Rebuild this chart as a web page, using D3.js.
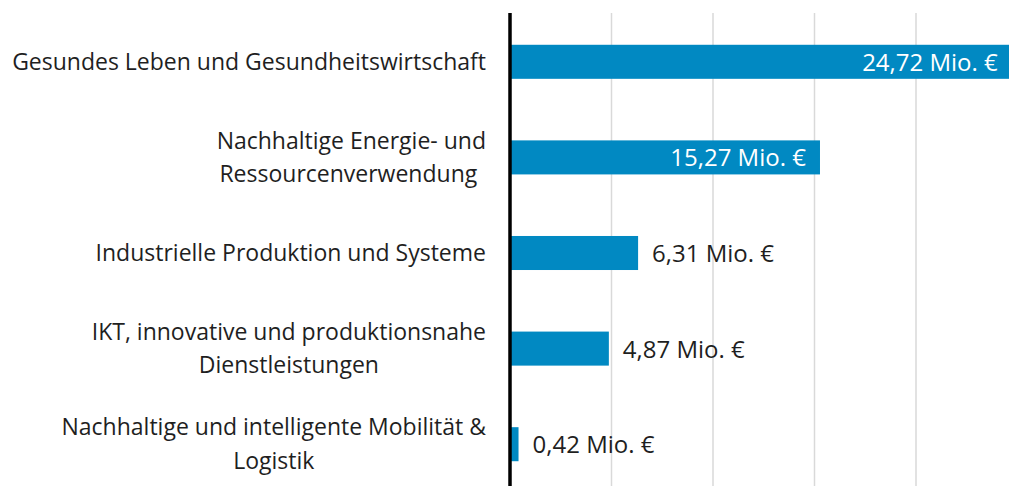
<!DOCTYPE html>
<html>
<head>
<meta charset="utf-8">
<script src="https://cdn.jsdelivr.net/npm/d3@7"></script>
<style>
	body { margin: 0; background: #ffffff; }
	svg { display: block; }
	text { font-family: "Open Sans", "Noto Sans", sans-serif; }
</style>
</head>
<body>
<svg id="svg-port" width="1009" height="486"></svg>
<script>
// Fördervolumen je Themenfeld (Mio. €)
var categories = [
	["Gesundes Leben und Gesundheitswirtschaft"],
	["Nachhaltige Energie- und", "Ressourcenverwendung "],
	["Industrielle Produktion und Systeme"],
	["IKT, innovative und produktionsnahe", "Dienstleistungen"],
	["Nachhaltige und intelligente Mobilität &", "Logistik"]
];
var values = [24.72, 15.27, 6.31, 4.87, 0.42];
var gridTicks = [5, 10, 15, 20, 25];

var deLocale = d3.formatLocale({decimal: ",", thousands: ".", grouping: [3], currency: ["", " €"]});
var fmt = deLocale.format(",.2f");

drawBars();

function drawBars() {
	var barColor = "#0189c2";
	var textColor = "#1f1f1f";
	var svg = d3.select("#svg-port"),
		width = +svg.attr("width"),
		height = +svg.attr("height");

	var axisX = 510;
	var labelRight = 486;

	var xScale = d3.scaleLinear()
		.domain([0, 25])
		.range([axisX, axisX + 25 * 20.3]);

	var yScale = d3.scaleBand()
		.domain(d3.range(values.length))
		.range([14, 492])
		.paddingInner(0.644)
		.paddingOuter(0.322);

	// gridlines
	svg.append("g").attr("id", "grid")
		.selectAll("line")
		.data(gridTicks)
		.enter().append("line")
		.attr("x1", function (d) { return xScale(d); })
		.attr("x2", function (d) { return xScale(d); })
		.attr("y1", 13)
		.attr("y2", height)
		.style("stroke", "#d9d9d9")
		.style("stroke-width", 1.5);

	// bars
	svg.append("g").attr("id", "bars")
		.selectAll("rect")
		.data(values)
		.enter().append("rect")
		.attr("x", xScale(0))
		.attr("y", function (d, i) { return yScale(i); })
		.attr("width", function (d) { return xScale(d) - xScale(0); })
		.attr("height", yScale.bandwidth())
		.style("fill", barColor);

	// y axis line
	svg.append("line")
		.attr("x1", axisX).attr("x2", axisX)
		.attr("y1", 13).attr("y2", height)
		.style("stroke", "#000")
		.style("stroke-width", 3.5);

	// category labels, lines centred inside a right aligned block
	var lineHeight = 33.5;
	categories.forEach(function (lines, i) {
		var cy = yScale(i) + yScale.bandwidth() / 2;
		var g = svg.append("g").attr("class", "cat-label");
		var texts = lines.map(function (line, j) {
			return g.append("text")
				.attr("y", cy + 8 + (j - (lines.length - 1) / 2) * lineHeight)
				.attr("text-anchor", "middle")
				.style("font-size", "23px")
				.style("fill", textColor)
				.style("white-space", "pre")
				.text(line);
		});
		var maxW = d3.max(texts, function (t) { return t.node().getComputedTextLength(); });
		texts.forEach(function (t) {
			t.attr("x", labelRight - maxW / 2);
		});
	});

	// value labels
	var pad = 14;
	svg.append("g").attr("id", "value-labels")
		.selectAll("text")
		.data(values)
		.enter().append("text")
		.attr("y", function (d, i) { return yScale(i) + yScale.bandwidth() / 2 + 9; })
		.style("font-size", "24px")
		.text(function (d) { return fmt(d) + " Mio. €"; })
		.each(function (d) {
			var el = d3.select(this);
			var w = this.getComputedTextLength();
			var barW = xScale(d) - xScale(0);
			if (barW > w + 2 * pad) {
				el.attr("x", xScale(d) - pad).attr("text-anchor", "end").style("fill", "#ffffff");
			} else {
				el.attr("x", xScale(d) + pad).attr("text-anchor", "start").style("fill", textColor);
			}
		});
}
</script>
</body>
</html>
